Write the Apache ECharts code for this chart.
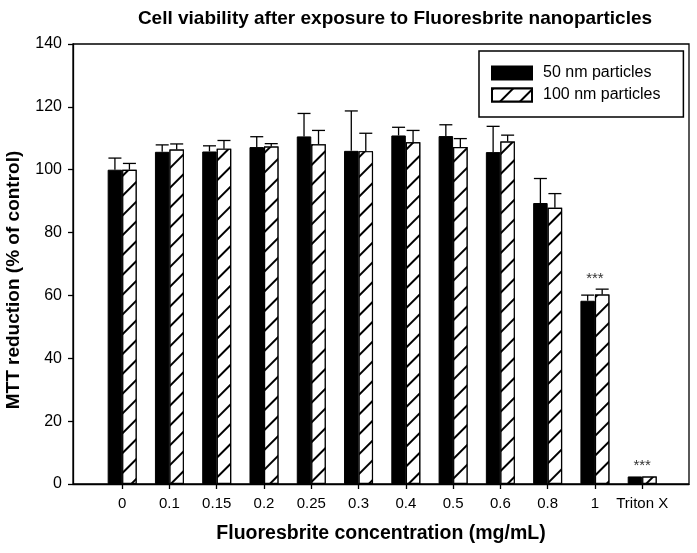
<!DOCTYPE html>
<html>
<head>
<meta charset="utf-8">
<script src="https://cdn.jsdelivr.net/npm/echarts@6/dist/echarts.min.js"></script>
<style>
  html, body { margin: 0; padding: 0; background: #fff; }
  #chart { width: 697px; height: 553px; }
</style>
</head>
<body>
<div id="chart"></div>
<script>
// concentrations on the x axis (mg/mL) + the Triton X control
const concentrations = ['0', '0.1', '0.15', '0.2', '0.25', '0.3', '0.4', '0.5', '0.6', '0.8', '1', 'Triton X'];

// MTT reduction (% of control), mean and upper error
const mean50 = [100.0, 105.7, 105.8, 107.2, 110.6, 106.0, 110.9, 110.7, 105.6, 89.4, 58.3, 2.4];
const err50 = [3.7, 2.2, 1.8, 3.3, 7.3, 12.7, 2.6, 3.6, 8.2, 7.8, 1.8, 0.0];
const mean100 = [100.0, 106.4, 106.7, 107.4, 108.1, 105.9, 108.7, 107.2, 109.0, 87.9, 60.3, 2.4];
const err100 = [2.0, 1.8, 2.6, 0.9, 4.4, 5.7, 3.8, 2.7, 2.0, 4.5, 1.7, 0.0];

// significance marks above each pair
const significance = ['', '', '', '', '', '', '', '', '', '', '***', '***'];

const yTicks = [0, 20, 40, 60, 80, 100, 120, 140];

const FONT = 'Liberation Sans, Arial, Helvetica, sans-serif';
const BAR_W = 14.5;
const CAP_W = 13;

const chart = echarts.init(document.getElementById('chart'), null, { renderer: 'canvas' });

// one-sided (upward) error bars, shifted onto the left or right bar of a pair
function errorBars(side) {
  return function (params, api) {
    const i = api.value(0);
    const base = api.coord([i, api.value(1)]);
    const top = api.coord([i, api.value(1) + api.value(2)]);
    const x = base[0] + side * BAR_W / 2;
    const st = { stroke: '#000', lineWidth: 1.3 };
    if (api.value(2) <= 0) return null;
    return {
      type: 'group',
      children: [
        { type: 'line', shape: { x1: x, y1: base[1], x2: x, y2: top[1] }, style: st },
        { type: 'line', shape: { x1: x - CAP_W / 2, y1: top[1], x2: x + CAP_W / 2, y2: top[1] }, style: st }
      ]
    };
  };
}

const hatch = {
  symbol: 'rect',
  symbolSize: 1,
  color: '#000',
  backgroundColor: '#fff',
  dashArrayX: [1, 0],
  dashArrayY: [1.3, 12],
  rotation: -Math.PI / 4
};

const option = {
  animation: false,
  backgroundColor: '#fff',
  textStyle: { fontFamily: FONT },
  title: {
    text: 'Cell viability after exposure to Fluoresbrite nanoparticles',
    left: 390,
    textAlign: 'center',
    top: 4,
    textStyle: { fontFamily: FONT, fontSize: 19, fontWeight: 'bold', color: '#000' }
  },
  legend: {
    data: ['50 nm particles', '100 nm particles'],
    orient: 'vertical',
    left: 479,
    top: 51,
    icon: 'rect',
    itemWidth: 40,
    itemHeight: 13,
    itemGap: 6,
    padding: [14, 23, 14, 12],
    borderColor: '#000',
    borderWidth: 1.5,
    textStyle: { fontFamily: FONT, fontSize: 16, color: '#000', padding: [0, 0, 0, 6] }
  },
  grid: {
    left: 73,
    right: 8,
    top: 44,
    bottom: 69,
    outerBoundsMode: 'none',
    containLabel: false,
    show: true,
    borderColor: '#000',
    borderWidth: 1.3
  },
  xAxis: {
    type: 'value',
    min: -1.04,
    max: 11.99,
    name: 'Fluoresbrite concentration (mg/mL)',
    nameLocation: 'middle',
    nameGap: 40,
    nameTextStyle: { fontFamily: FONT, fontSize: 19.5, fontWeight: 'bold', color: '#000' },
    splitLine: { show: false },
    axisLine: { onZero: false, lineStyle: { color: '#000', width: 1.3 } },
    axisTick: {
      length: 5,
      lineStyle: { color: '#000', width: 1.3 },
      customValues: concentrations.map((c, i) => i)
    },
    axisLabel: {
      customValues: concentrations.map((c, i) => i),
      formatter: v => concentrations[v] ?? '',
      fontFamily: FONT,
      fontSize: 15,
      color: '#000',
      margin: 12
    }
  },
  yAxis: {
    type: 'value',
    min: 0,
    max: 140,
    interval: 20,
    name: 'MTT reduction (% of control)',
    nameLocation: 'middle',
    nameGap: 50,
    nameTextStyle: { fontFamily: FONT, fontSize: 19, fontWeight: 'bold', color: '#000', padding: [0, 32, 0, 0] },
    splitLine: { show: false },
    axisLine: { show: true, onZero: false, lineStyle: { color: '#000', width: 1.3 } },
    axisTick: { show: true, length: 5, lineStyle: { color: '#000', width: 1.3 } },
    axisLabel: {
      customValues: yTicks,
      fontFamily: FONT,
      fontSize: 16,
      color: '#000',
      margin: 11
    }
  },
  series: [
    {
      name: '50 nm particles',
      type: 'bar',
      barWidth: BAR_W,
      barGap: '0%',
      data: mean50.map((v, i) => [i, v]),
      itemStyle: { color: '#000', borderColor: '#000', borderWidth: 1 }
    },
    {
      name: '100 nm particles',
      type: 'bar',
      barWidth: BAR_W,
      barGap: '0%',
      data: mean100.map((v, i) => [i, v]),
      itemStyle: { color: '#fff', borderColor: '#000', borderWidth: 1.2, decal: hatch }
    },
    {
      name: 'err50',
      type: 'custom',
      z: 3,
      renderItem: errorBars(-1),
      encode: { x: 0, y: 1 },
      data: mean50.map((v, i) => [i, v, err50[i]])
    },
    {
      name: 'err100',
      type: 'custom',
      z: 3,
      renderItem: errorBars(1),
      encode: { x: 0, y: 1 },
      data: mean100.map((v, i) => [i, v, err100[i]])
    },
    {
      name: 'sig',
      type: 'custom',
      z: 4,
      encode: { x: 0, y: 1 },
      data: concentrations.map((c, i) => [i, Math.max(mean50[i] + err50[i], mean100[i] + err100[i])]),
      renderItem: function (params, api) {
        const s = significance[params.dataIndex];
        if (!s) return null;
        const p = api.coord([api.value(0), api.value(1)]);
        return {
          type: 'text',
          x: p[0],
          y: p[1] - 3,
          style: { text: s, textAlign: 'center', textVerticalAlign: 'bottom', fontFamily: FONT, fontSize: 15, fill: '#333' }
        };
      }
    }
  ]
};

chart.setOption(option);
</script>
</body>
</html>
